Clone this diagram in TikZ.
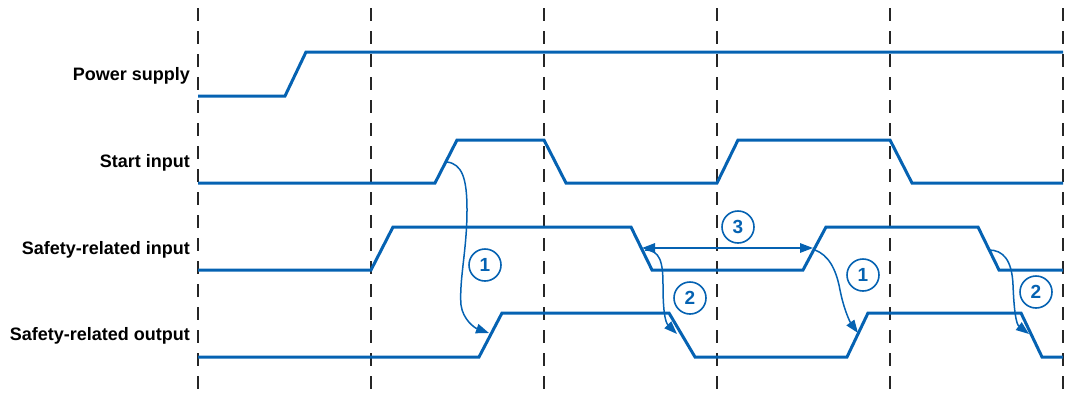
\documentclass[tikz,border=0pt]{standalone}
\usepackage{fontspec}
\setmainfont{Liberation Sans}
\usetikzlibrary{arrows.meta}
\definecolor{sigblue}{HTML}{0562B2}

\begin{document}
\begin{tikzpicture}[x=1pt, y=-1pt, sig/.style={draw=sigblue, line width=3pt, line join=miter}, grid/.style={draw=black!85, line width=2pt, dash pattern=on 13pt off 10pt}, lbl/.style={anchor=base east, inner sep=0pt, font=\fontsize{18}{20}\selectfont\bfseries}, num/.style={circle, draw=sigblue, line width=1.6pt, fill=white, minimum size=32pt, inner sep=0pt, text=sigblue, font=\fontsize{19}{20}\selectfont\bfseries}, ann/.style={draw=sigblue, line width=1.5pt, -{Triangle[length=13pt,width=9.5pt]}}, dbl/.style={ann, {Triangle[length=13pt,width=9.5pt]}-{Triangle[length=13pt,width=9.5pt]}}
]
  \useasboundingbox (0,0) rectangle (1067,394);
  % time grid
  \foreach \x in {198,371,544,717,890,1063}
    \draw[grid] (\x,8) -- (\x,394);
  % signal names
  \node[lbl] (pwr) at (190,80) {Power supply};
  \node[lbl] (start) at (190,167) {Start input};
  \node[lbl] (sin) at (190,254) {Safety-related input};
  \node[lbl] (sout) at (190,340) {Safety-related output};
  % waveforms
  \draw[sig] (198,96) -- (285,96) -- (306,52) -- (1063,52);
  \draw[sig] (198,183) -- (435,183) -- (457,140) -- (544,140) -- (566,183) -- (717,183)
    -- (738,140) -- (890,140) -- (912,183) -- (1063,183);
  \draw[sig] (198,270) -- (371,270) -- (393,227) -- (631,227) -- (652,270) -- (803,270)
    -- (826,227) -- (978,227) -- (999,270) -- (1063,270);
  \draw[sig] (198,357) -- (479,357) -- (502,313) -- (669,313) -- (695,357) -- (847,357)
    -- (868,313) -- (1021,313) -- (1042,357) -- (1063,357);
  % arrow ends
  \coordinate (s1) at (447,162);
  \coordinate (o1) at (489,333);
  \coordinate (i2) at (645,250);
  \coordinate (o2) at (677,334);
  \coordinate (i3a) at (642,248);
  \coordinate (i3b) at (813,248);
  \coordinate (i4) at (815,250);
  \coordinate (o4) at (858,333);
  \coordinate (i5) at (989,250);
  \coordinate (o5) at (1029,334);
  % reaction times
  \draw[ann] (s1) .. controls (462,164) and (467,178) .. (467,210)
    .. controls (467,250) and (459,280) .. (461,305)
    .. controls (463,320) and (475,328) .. (o1);
  \draw[ann] (i2) .. controls (660,250) and (663,262) .. (663,285)
    .. controls (663,310) and (665,322) .. (o2);
  \draw[dbl] (i3a) -- (i3b);
  \draw[ann] (i4) .. controls (828,255) and (836,268) .. (840,290)
    .. controls (844,310) and (850,322) .. (o4);
  \draw[ann] (i5) .. controls (1003,250) and (1012,260) .. (1013,285)
    .. controls (1014,310) and (1016,324) .. (o5);
  % markers
  \node[num] (n1a) at (485,265) {1};
  \node[num] (n2a) at (690,298) {2};
  \node[num] (n3) at (738,227) {3};
  \node[num] (n1b) at (863,275) {1};
  \node[num] (n2b) at (1036,292) {2};
\end{tikzpicture}
\end{document}
